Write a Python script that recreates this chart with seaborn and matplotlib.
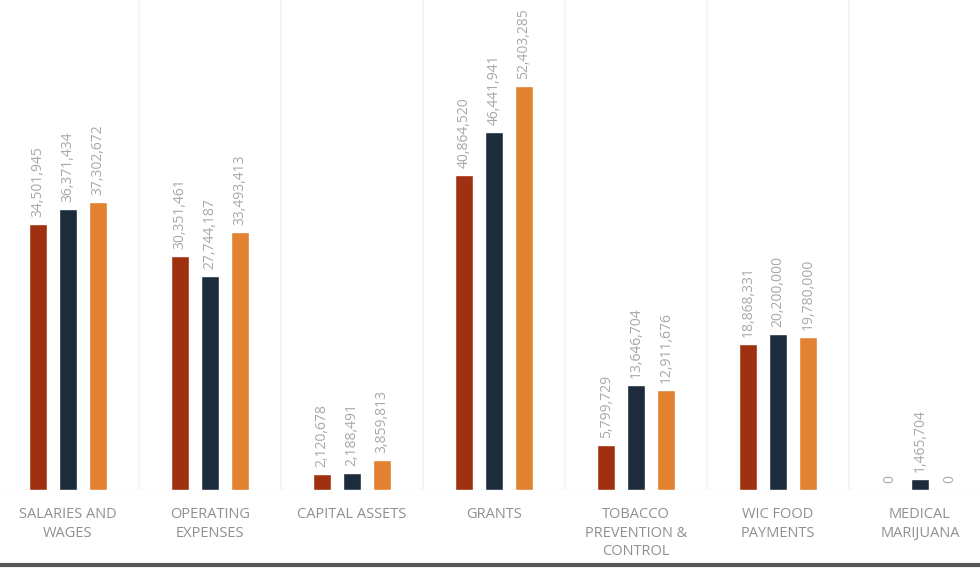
import pandas as pd
import matplotlib.pyplot as plt
import seaborn as sns

categories = ["SALARIES AND\nWAGES", "OPERATING\nEXPENSES", "CAPITAL ASSETS", "GRANTS",
              "TOBACCO\nPREVENTION &\nCONTROL", "WIC FOOD\nPAYMENTS", "MEDICAL\nMARIJUANA"]
series = ["FY 2018", "FY 2019", "FY 2020"]
values_2018 = [34501945, 30351461, 2120678, 40864520, 5799729, 18868331, 0]
values_2019 = [36371434, 27744187, 2188491, 46441941, 13646704, 20200000, 1465704]
values_2020 = [37302672, 33493413, 3859813, 52403285, 12911676, 19780000, 0]
colors = ["#9f3010", "#1c2c3c", "#e2812f"]

sns.set_style("white")
plt.rcParams['font.family'] = ['Open Sans', 'DejaVu Sans']

df = pd.DataFrame({
    "category": categories * 3,
    "series": [series[0]] * 7 + [series[1]] * 7 + [series[2]] * 7,
    "amount": values_2018 + values_2019 + values_2020,
})

fig = plt.figure(figsize=(9.8, 5.7), dpi=100)
ax = fig.add_axes([-3 / 980, 80 / 570, 994 / 980, 490 / 570])

sns.barplot(data=df, x="category", y="amount", hue="series", palette=colors,
            width=0.63, gap=0.4, legend=False, ax=ax, saturation=1)

ax.set_xlim(-0.5, 6.5)
ax.set_ylim(0, 63.5e6)

for cont in ax.containers:
    labels = ["{:,.0f}".format(b.get_height()) for b in cont]
    ax.bar_label(cont, labels=labels, rotation=90, padding=5, fontsize=10,
                 color="#a8a8a8")

for x in [0.5, 1.5, 2.5, 3.5, 4.5, 5.5]:
    ax.axvline(x, color="#f3f3f3", lw=1.2, zorder=0)
ax.axhline(0, color="#eeeeee", lw=1, zorder=0)

ax.set_xlabel("")
ax.set_ylabel("")
ax.set_yticks([])
ax.tick_params(axis="x", length=0, pad=12)
for lab in ax.get_xticklabels():
    lab.set_fontsize(10.5)
    lab.set_color("#909090")
    lab.set_linespacing(1.35)
sns.despine(ax=ax, left=True, bottom=True)

fig.add_artist(plt.Line2D([0, 1], [5 / 570, 5 / 570], color="#555555", lw=3))

plt.savefig("out.png", dpi=100)
